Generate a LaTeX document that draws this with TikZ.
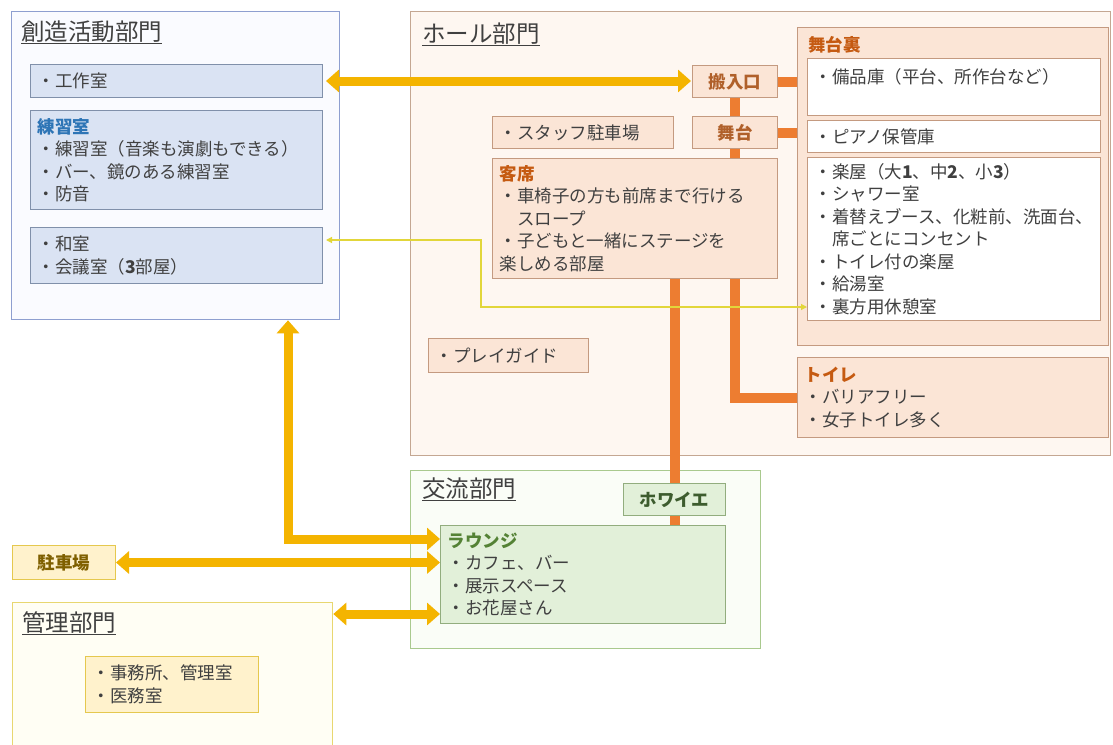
\documentclass[tikz,border=0pt]{standalone}
\usepackage{fontspec}
\setmainfont{Noto Sans CJK JP}
\usepackage{tikz}
\usetikzlibrary{arrows.meta}

\definecolor{txtgray}{HTML}{404040}
\definecolor{souzouline}{HTML}{8E9FD0}
\definecolor{souzoufill}{HTML}{FAFBFF}
\definecolor{bluefill}{HTML}{DAE3F3}
\definecolor{blueline}{HTML}{8090AA}
\definecolor{bluetitle}{HTML}{2E75B6}
\definecolor{hallline}{HTML}{C4A792}
\definecolor{hallfill}{HTML}{FEF7F1}
\definecolor{peachfill}{HTML}{FBE5D6}
\definecolor{peachline}{HTML}{C49A80}
\definecolor{orangetitle}{HTML}{C55A11}
\definecolor{stagetxt}{HTML}{B0602A}
\definecolor{linkorange}{HTML}{ED7D31}
\definecolor{kouryuline}{HTML}{A9C98E}
\definecolor{kouryufill}{HTML}{FAFDF7}
\definecolor{greenfill}{HTML}{E2F0D9}
\definecolor{greenline}{HTML}{92AD7E}
\definecolor{greentitle}{HTML}{548235}
\definecolor{foyertxt}{HTML}{3D5C2E}
\definecolor{yellowfill}{HTML}{FFF2CC}
\definecolor{yellowline}{HTML}{E5C84E}
\definecolor{kanriline}{HTML}{E8D770}
\definecolor{kanrifill}{HTML}{FFFEF4}
\definecolor{parkingtxt}{HTML}{7F6000}
\definecolor{arrowgold}{HTML}{F4B400}
\definecolor{thinyellow}{HTML}{E2D63A}

\newcommand{\roomfont}{\fontsize{17.5}{22.5}\selectfont}
\newcommand{\deptfont}{\fontsize{23.5}{28}\selectfont}

\begin{document}
\begin{tikzpicture}[x=1pt,y=-1pt]

\tikzset{
  room/.style={draw, line width=1pt, anchor=north west, align=left,
    inner xsep=7pt, inner ysep=0pt, text=txtgray, font=\roomfont},
  blueroom/.style={room, fill=bluefill, draw=blueline},
  peachroom/.style={room, fill=peachfill, draw=peachline},
  whiteroom/.style={room, fill=white, draw=peachline},
  greenroom/.style={room, fill=greenfill, draw=greenline},
  yellowroom/.style={room, fill=yellowfill, draw=yellowline},
  dept/.style={draw, line width=1.3pt, anchor=north west, inner sep=0pt},
  depttitle/.style={anchor=base west, inner sep=0pt, text=txtgray, font=\deptfont},
  yarrow/.style={draw=arrowgold, line width=9pt,
    {Triangle[length=13pt,width=22pt]}-{Triangle[length=13pt,width=22pt]}},
  orangelink/.style={draw=linkorange, line width=10pt},
  thinlink/.style={draw=thinyellow, line width=1.2pt,
    {Triangle[length=6pt,width=6pt]}-{Triangle[length=6pt,width=6pt]}}
}

\useasboundingbox (0,0) rectangle (1113,744);
\clip (0,0) rectangle (1113,744);
\fill[white] (0,0) rectangle (1113,744);

\node[dept, draw=souzouline, fill=souzoufill, minimum width=328pt, minimum height=308pt] (souzou) at (11,11) {};
\node[dept, draw=hallline, fill=hallfill, minimum width=700pt, minimum height=444pt] (hall) at (410,11) {};
\node[dept, draw=kouryuline, fill=kouryufill, minimum width=350pt, minimum height=178pt] (kouryu) at (410,470) {};
\node[dept, draw=kanriline, fill=kanrifill, minimum width=320pt, minimum height=170pt] (kanri) at (12,602) {};

\node[depttitle] (souzoutitle) at (21,40) {\underline{創造活動部門}};
\node[depttitle] (halltitle) at (422,42) {\underline{ホール部門}};
\node[depttitle] (kouryutitle) at (422,497) {\underline{交流部門}};
\node[depttitle] (kanrititle) at (22,631) {\underline{管理部門}};

\node[blueroom, text width=278pt, minimum height=33pt] (kosaku) at (30,64) {・工作室};
\node[blueroom, text width=278pt, minimum height=99pt] (renshu) at (30,110)
  {{\color{bluetitle}\bfseries 練習室}\\・練習室（音楽も演劇もできる）\\・バー、鏡のある練習室\\・防音};
\node[blueroom, text width=278pt, minimum height=56pt] (washitsu) at (30,227)
  {・和室\\・会議室（{\bfseries 3}部屋）};

\node[peachroom, minimum width=85pt, minimum height=32pt, align=center, text=stagetxt, font=\roomfont\bfseries] (hannyu) at (692,65) {搬入口};
\node[peachroom, minimum width=85pt, minimum height=32pt, align=center, text=stagetxt, font=\roomfont\bfseries] (butai) at (692,116) {舞台};
\node[peachroom, text width=167pt, minimum height=32pt] (staffp) at (492,116) {・スタッフ駐車場};
\node[peachroom, text width=271pt, minimum height=120pt] (kyakuseki) at (492,158)
  {{\color{orangetitle}\bfseries 客席}\\・車椅子の方も前席まで行ける\\\hspace*{1em}スロープ\\・子どもと一緒にステージを\\楽しめる部屋};
\node[peachroom, text width=146pt, minimum height=34pt] (playg) at (428,338) {・プレイガイド};

\node[peachroom, minimum width=311pt, minimum height=318pt] (butaiura) at (797,27) {};
\node[anchor=base west, inner sep=0pt, text=orangetitle, font=\roomfont\bfseries] (butaiuratitle) at (808,51) {舞台裏};
\node[whiteroom, text width=279pt, minimum height=57pt] (bihin) at (807,58) {・備品庫（平台、所作台など）\\\mbox{}};
\node[whiteroom, text width=279pt, minimum height=32pt] (piano) at (807,120) {・ピアノ保管庫};
\node[whiteroom, text width=279pt, minimum height=163pt] (gakuya) at (807,157)
  {・楽屋（大{\bfseries 1}、中{\bfseries 2}、小{\bfseries 3}）\\・シャワー室\\・着替えブース、化粧前、洗面台、\\\hspace*{1em}席ごとにコンセント\\・トイレ付の楽屋\\・給湯室\\・裏方用休憩室};
\node[peachroom, text width=297pt, minimum height=80pt] (toilet) at (797,357)
  {{\color{orangetitle}\bfseries トイレ}\\・バリアフリー\\・女子トイレ多く};

\node[greenroom, minimum width=102pt, minimum height=32pt, align=center, text=foyertxt, font=\roomfont\bfseries] (foyer) at (623,483) {ホワイエ};
\node[greenroom, text width=271pt, minimum height=98pt] (lounge) at (440,525)
  {{\color{greentitle}\bfseries ラウンジ}\\・カフェ、バー\\・展示スペース\\・お花屋さん};

\node[yellowroom, minimum width=103pt, minimum height=34pt, align=center, text=parkingtxt, font=\roomfont\bfseries] (parking) at (12,545) {駐車場};
\node[yellowroom, text width=159pt, minimum height=56pt] (jimu) at (85,656) {・事務所、管理室\\・医務室};

\draw[orangelink] (hannyu.east) -- (hannyu.east -| butaiura.west);
\draw[orangelink] (butai.east) -- (butai.east -| butaiura.west);
\draw[orangelink] (hannyu.south) -- (butai.north);
\draw[orangelink] (butai.south) -- (butai.south |- kyakuseki.north);
\draw[orangelink] (butai.south |- kyakuseki.south) |- (toilet.west);
\draw[orangelink] (foyer.north |- kyakuseki.south) -- (foyer.north);
\draw[orangelink] (foyer.south) -- (foyer.south |- lounge.north);

\coordinate (lb) at (288,539);
\coordinate (kb) at (0,614);
\draw[yarrow, shorten <=3pt, shorten >=1pt] (kosaku.east) -- (kosaku.east -| hannyu.west);
\draw[yarrow] (souzou.south -| lb) |- (lounge.west |- lb);
\draw[yarrow] (parking.east) -- (parking.east -| lounge.west);
\draw[yarrow] (kanri.east |- kb) -- (lounge.west |- kb);

\coordinate (t1) at (481,240);
\coordinate (t2) at (481,307);
\draw[thinlink, shorten <=3pt] (washitsu.east |- t1) -- (t1) -- (t2) -- (gakuya.west |- t2);

\end{tikzpicture}
\end{document}
